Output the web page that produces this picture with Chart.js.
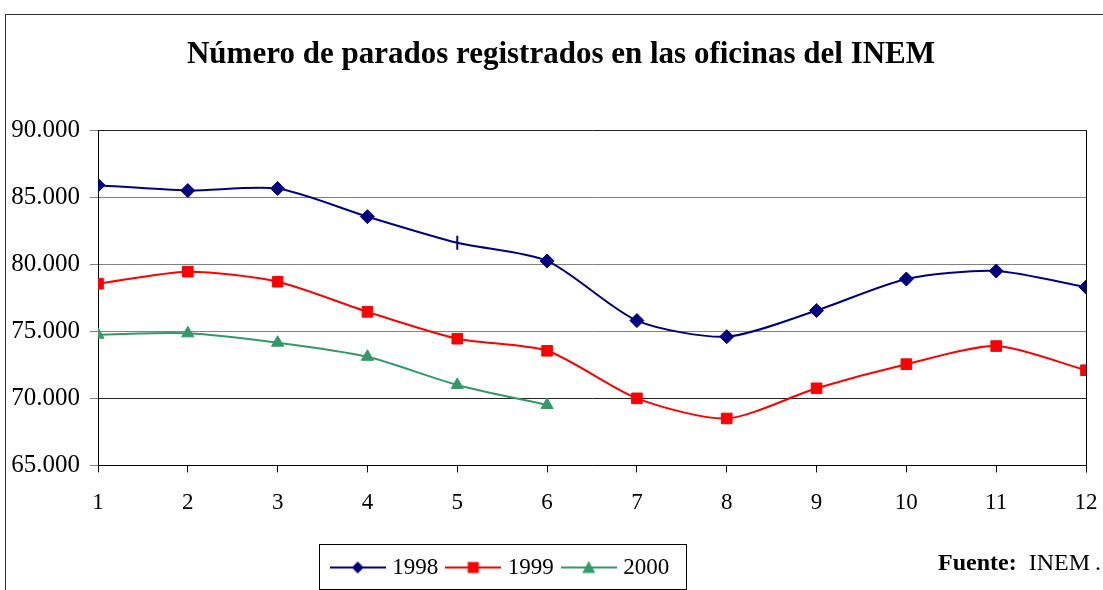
<!DOCTYPE html>
<html lang="es">
<head>
<meta charset="utf-8">
<title>Parados INEM</title>
<script src="https://cdn.jsdelivr.net/npm/chart.js@4.4.1/dist/chart.umd.min.js"></script>
<style>
  html, body { margin: 0; padding: 0; background: #fff; }
  #marco { position: relative; width: 1103px; height: 590px; overflow: hidden; }
  #borde { position: absolute; left: 5px; top: 14px; width: 1200px; height: 700px;
           border-top: 1px solid #333; border-left: 1px solid #333; pointer-events: none; }
  #fuente { position: absolute; left: 938px; top: 549px; font: 24px "Liberation Serif", serif; color: #000; white-space: pre; }
  #fuente b { font-weight: bold; }
  canvas { position: absolute; left: 0; top: 0; }
</style>
</head>
<body>
<div id="marco">
  <canvas id="grafico" width="1103" height="590"></canvas>
  <div id="borde"></div>
  <div id="fuente"><b>Fuente:</b>  INEM<span style="margin-left:5px">.</span></div>
</div>
<script>
// datos (mes 1..12)
var meses = [1, 2, 3, 4, 5, 6, 7, 8, 9, 10, 11, 12];
var parados1998 = [85900, 85500, 85650, 83550, 81600, 80250, 75800, 74600, 76550, 78900, 79500, 78300];
var parados1999 = [78550, 79450, 78700, 76450, 74450, 73550, 70000, 68500, 70750, 72550, 73900, 72100];
var parados2000 = [74750, 74850, 74150, 73100, 71000, 69500];
var ticksY = [65000, 70000, 75000, 80000, 85000, 90000];

var SERIF = "'Liberation Serif', 'Times New Roman', serif";

function puntos(valores) {
  return valores.map(function (v, i) { return { x: meses[i], y: v }; });
}
function miles(v) {
  return String(v).replace(/\B(?=(\d{3})+(?!\d))/g, ".");
}

// símbolo de leyenda: línea con marcador en medio
function simbolo(color, forma) {
  var c = document.createElement("canvas");
  c.width = 56; c.height = 16;
  var g = c.getContext("2d");
  g.strokeStyle = color; g.fillStyle = color; g.lineWidth = 2;
  g.beginPath(); g.moveTo(0, 8); g.lineTo(56, 8); g.stroke();
  g.beginPath();
  if (forma === "rombo") { g.moveTo(28, 2); g.lineTo(34, 8); g.lineTo(28, 14); g.lineTo(22, 8); }
  else if (forma === "cuadro") { g.rect(22.5, 2.5, 11, 11); }
  else { g.moveTo(28, 1.5); g.lineTo(34.5, 13.5); g.lineTo(21.5, 13.5); }
  g.closePath(); g.fill();
  return c;
}

var estilos = [
  { color: "#000080", forma: "rombo" },
  { color: "#ff0000", forma: "cuadro" },
  { color: "#339966", forma: "triangulo" }
];

var cajaLeyenda = {
  id: "cajaLeyenda",
  afterLayout: function (chart) {
    var l = chart.legend;
    var centro = (l.left + l.right) / 2;
    l.left += 502 - centro; l.right += 502 - centro;
    var t = chart.titleBlock;
    var ct = (t.left + t.right) / 2;
    t.left += 561 - ct; t.right += 561 - ct;
  },
  afterDraw: function (chart) {
    var l = chart.legend, ctx = chart.ctx;
    var ancho = l.lineWidths[0] + 20;
    var x0 = (l.left + l.right) / 2 - ancho / 2;
    ctx.save();
    ctx.strokeStyle = "#000"; ctx.lineWidth = 1;
    ctx.strokeRect(Math.round(x0) + 0.5, Math.round(l.top) + 0.5, Math.round(ancho), Math.round(l.bottom - l.top));
    // borde derecho del área de trazado
    var a = chart.chartArea;
    ctx.beginPath(); ctx.moveTo(Math.round(a.right) + 0.5, a.top); ctx.lineTo(Math.round(a.right) + 0.5, a.bottom + 7); ctx.stroke();
    ctx.restore();
  }
};

new Chart(document.getElementById("grafico"), {
  type: "line",
  data: {
    datasets: [
      { label: "1998", data: puntos(parados1998), borderColor: "#000080", backgroundColor: "#000080",
        pointStyle: ["rectRot", "rectRot", "rectRot", "rectRot", "line", "rectRot", "rectRot", "rectRot", "rectRot", "rectRot", "rectRot", "rectRot"],
        pointRotation: [0, 0, 0, 0, 90, 0, 0, 0, 0, 0, 0, 0],
        pointRadius: 7, pointBorderWidth: [1, 1, 1, 1, 2, 1, 1, 1, 1, 1, 1, 1] },
      { label: "1999", data: puntos(parados1999), borderColor: "#ff0000", backgroundColor: "#ff0000",
        pointStyle: "rect", pointRadius: 7.5, pointBorderWidth: 1 },
      { label: "2000", data: puntos(parados2000), borderColor: "#339966", backgroundColor: "#339966",
        pointStyle: "triangle", pointRadius: 7, pointBorderWidth: 1 }
    ]
  },
  plugins: [cajaLeyenda],
  options: {
    responsive: false, animation: false,
    devicePixelRatio: 1,
    layout: { padding: { left: 2, right: 17, top: 0, bottom: 1 } },
    elements: { line: { borderWidth: 2, tension: 0.25, fill: false } },
    scales: {
      x: {
        type: "linear", min: 1, max: 12,
        afterBuildTicks: function (s) { s.ticks = meses.map(function (m) { return { value: m }; }); },
        afterFit: function (s) { s.height += 10; s.paddingLeft = 0; s.paddingRight = 0; },
        border: { color: "#000", width: 1 },
        grid: { drawOnChartArea: false, tickLength: 7, tickColor: "#000" },
        ticks: { color: "#000", padding: 17, maxRotation: 0, font: { family: SERIF, size: 23 } }
      },
      y: {
        min: 65000, max: 90000,
        afterBuildTicks: function (s) { s.ticks = ticksY.map(function (v) { return { value: v }; }); },
        afterFit: function (s) { s.width = 96; },
        border: { color: "#000", width: 1 },
        grid: { tickLength: 8,
          color: function (c) { return (c.tick && (c.tick.value === 70000 || c.tick.value === 90000)) ? "#222" : "#808080"; },
          tickColor: "#808080" },
        ticks: { color: "#000", padding: 10, font: { family: SERIF, size: 25 }, callback: function (v) { return miles(v); } }
      }
    },
    plugins: {
      title: { display: true, text: "Número de parados registrados en las oficinas del INEM",
        color: "#000", font: { family: SERIF, size: 31, weight: "bold" }, padding: { top: 36, bottom: 57 } },
      legend: { position: "bottom",
        labels: { color: "#000", font: { family: SERIF, size: 23 }, usePointStyle: true, pointStyleWidth: 46, padding: 12,
          generateLabels: function (chart) {
            return chart.data.datasets.map(function (d, i) {
              return { text: d.label, datasetIndex: i, fontColor: "#000", lineWidth: 0,
                pointStyle: simbolo(estilos[i].color, estilos[i].forma) };
            });
          } } },
      tooltip: { enabled: false }
    }
  }
});
</script>
</body>
</html>
